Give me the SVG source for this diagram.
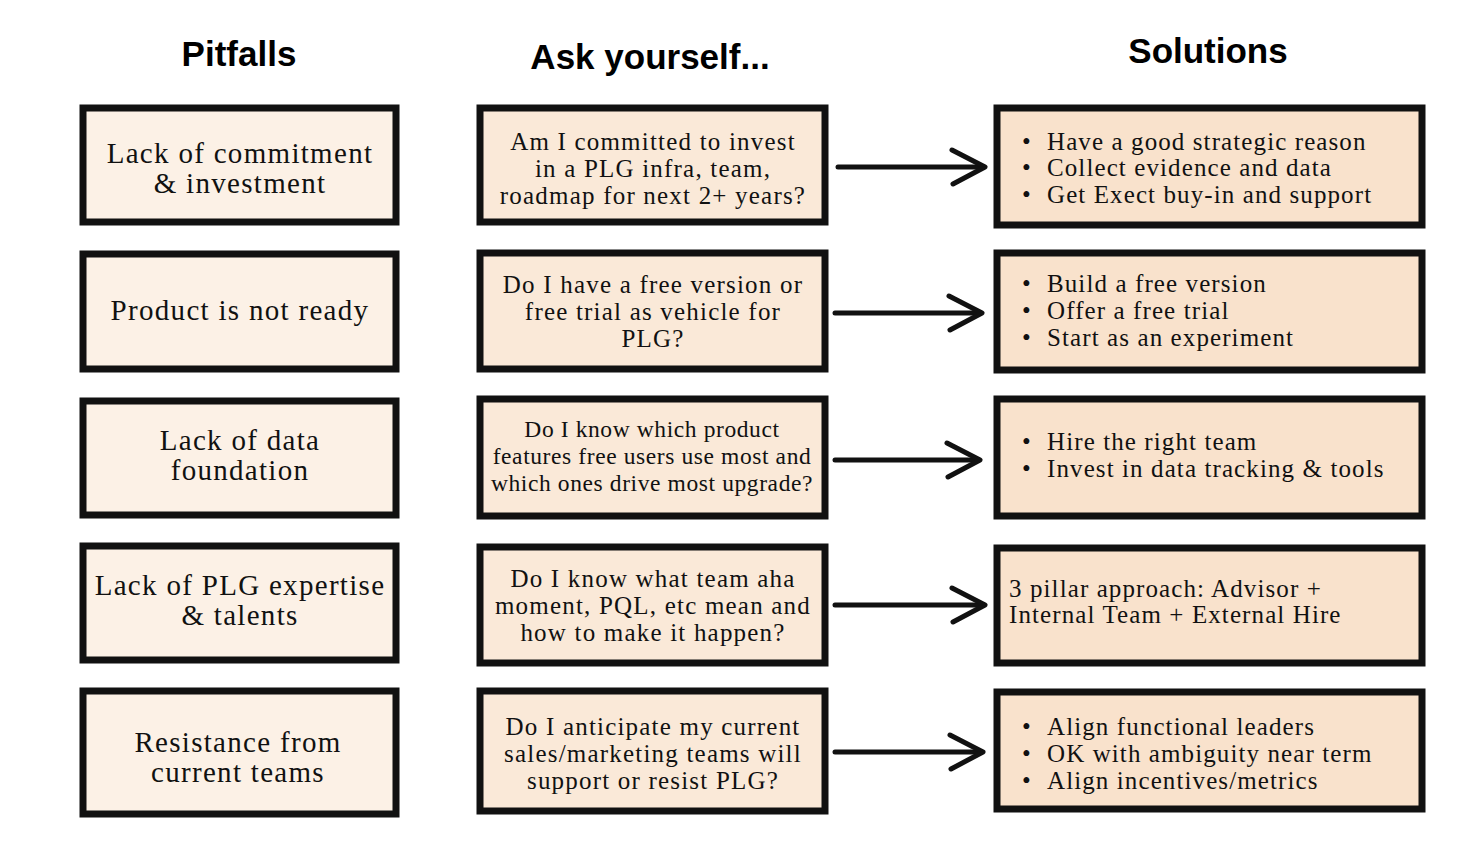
<svg xmlns="http://www.w3.org/2000/svg" width="1484" height="854" viewBox="0 0 1484 854">
<defs>
<style>
.h{font-family:"Liberation Sans",Arial,sans-serif;font-weight:bold;font-size:35px;fill:#000;text-anchor:middle}
.b1{fill:#fcf1e6;stroke:#111;stroke-width:7}
.b2{fill:#fae9d8;stroke:#111;stroke-width:7}
.b3{fill:#f9e2cc;stroke:#111;stroke-width:7}
.t1{font-family:"Liberation Serif","Times New Roman",serif;font-size:29px;letter-spacing:1.3px;fill:#111;text-anchor:middle}
.t2{font-family:"Liberation Serif","Times New Roman",serif;font-size:25px;letter-spacing:1.2px;fill:#111;text-anchor:middle}
.t3{font-family:"Liberation Serif","Times New Roman",serif;font-size:25px;letter-spacing:1.1px;fill:#111}
.c line,.c path{stroke:#111;stroke-width:5;fill:none;stroke-linecap:round;stroke-linejoin:round}
</style>
</defs>
<rect width="1484" height="854" fill="#fff"/>
<text class="h" x="239" y="66">Pitfalls</text>
<text class="h" x="650" y="69">Ask yourself...</text>
<text class="h" x="1208" y="63">Solutions</text>

<g id="pitfall1"><rect class="b1" x="83" y="108" width="313" height="114"/><text class="t1" x="240" y="163">Lack of commitment</text><text class="t1" x="240" y="193">&amp; investment</text></g>
<g id="pitfall2"><rect class="b1" x="83" y="254" width="313" height="115"/><text class="t1" x="240" y="320">Product is not ready</text></g>
<g id="pitfall3"><rect class="b1" x="83" y="401" width="313" height="114"/><text class="t1" x="240" y="450">Lack of data</text><text class="t1" x="240" y="480">foundation</text></g>
<g id="pitfall4"><rect class="b1" x="83" y="546" width="313" height="114"/><text class="t1" x="240" y="595">Lack of PLG expertise</text><text class="t1" x="240" y="625">&amp; talents</text></g>
<g id="pitfall5"><rect class="b1" x="83" y="691" width="313" height="123"/><text class="t1" x="238" y="752">Resistance from</text><text class="t1" x="238" y="782">current teams</text></g>

<g id="ask1"><rect class="b2" x="480" y="108" width="345" height="114"/><text class="t2" x="653" y="150">Am I committed to invest</text><text class="t2" x="653" y="177">in a PLG infra, team,</text><text class="t2" x="653" y="204">roadmap for next 2+ years?</text></g>
<g id="ask2"><rect class="b2" x="480" y="253" width="345" height="116"/><text class="t2" x="653" y="293">Do I have a free version or</text><text class="t2" x="653" y="320">free trial as vehicle for</text><text class="t2" x="653" y="347">PLG?</text></g>
<g id="ask3"><rect class="b2" x="480" y="399" width="345" height="117"/><text class="t2" x="652" y="437" style="font-size:23.5px;letter-spacing:0.6px">Do I know which product</text><text class="t2" x="652" y="464" style="font-size:23.5px;letter-spacing:0.6px">features free users use most and</text><text class="t2" x="652" y="491" style="font-size:23.5px;letter-spacing:0.6px">which ones drive most upgrade?</text></g>
<g id="ask4"><rect class="b2" x="480" y="547" width="345" height="116"/><text class="t2" x="653" y="587">Do I know what team aha</text><text class="t2" x="653" y="614">moment, PQL, etc mean and</text><text class="t2" x="653" y="641">how to make it happen?</text></g>
<g id="ask5"><rect class="b2" x="480" y="691" width="345" height="120"/><text class="t2" x="653" y="735">Do I anticipate my current</text><text class="t2" x="653" y="762">sales/marketing teams will</text><text class="t2" x="653" y="789">support or resist PLG?</text></g>

<g id="sol1"><rect class="b3" x="997" y="108" width="425" height="117"/><text class="t3" x="1022" y="150">•</text><text class="t3" x="1047" y="150">Have a good strategic reason</text><text class="t3" x="1022" y="176">•</text><text class="t3" x="1047" y="176">Collect evidence and data</text><text class="t3" x="1022" y="203">•</text><text class="t3" x="1047" y="203">Get Exect buy-in and support</text></g>
<g id="sol2"><rect class="b3" x="997" y="253" width="425" height="117"/><text class="t3" x="1022" y="292">•</text><text class="t3" x="1047" y="292">Build a free version</text><text class="t3" x="1022" y="319">•</text><text class="t3" x="1047" y="319">Offer a free trial</text><text class="t3" x="1022" y="346">•</text><text class="t3" x="1047" y="346">Start as an experiment</text></g>
<g id="sol3"><rect class="b3" x="997" y="399" width="425" height="117"/><text class="t3" x="1022" y="450">•</text><text class="t3" x="1047" y="450">Hire the right team</text><text class="t3" x="1022" y="477">•</text><text class="t3" x="1047" y="477">Invest in data tracking &amp; tools</text></g>
<g id="sol4"><rect class="b3" x="997" y="548" width="425" height="115"/><text class="t3" x="1009" y="597">3 pillar approach: Advisor +</text><text class="t3" x="1009" y="623">Internal Team + External Hire</text></g>
<g id="sol5"><rect class="b3" x="997" y="692" width="425" height="117"/><text class="t3" x="1022" y="735">•</text><text class="t3" x="1047" y="735">Align functional leaders</text><text class="t3" x="1022" y="762">•</text><text class="t3" x="1047" y="762">OK with ambiguity near term</text><text class="t3" x="1022" y="789">•</text><text class="t3" x="1047" y="789">Align incentives/metrics</text></g>

<g id="connectors" class="c">
<line x1="838" y1="167" x2="983" y2="167"/><path d="M952,150 L985,167 L953,184"/>
<line x1="835" y1="313" x2="980" y2="313"/><path d="M949,296 L982,313 L950,330"/>
<line x1="835" y1="460" x2="978" y2="460"/><path d="M947,443 L980,460 L948,477"/>
<line x1="835" y1="605" x2="983" y2="605"/><path d="M952,588 L985,605 L953,622"/>
<line x1="835" y1="752" x2="981" y2="752"/><path d="M950,735 L983,752 L951,769"/>
</g>
</svg>
